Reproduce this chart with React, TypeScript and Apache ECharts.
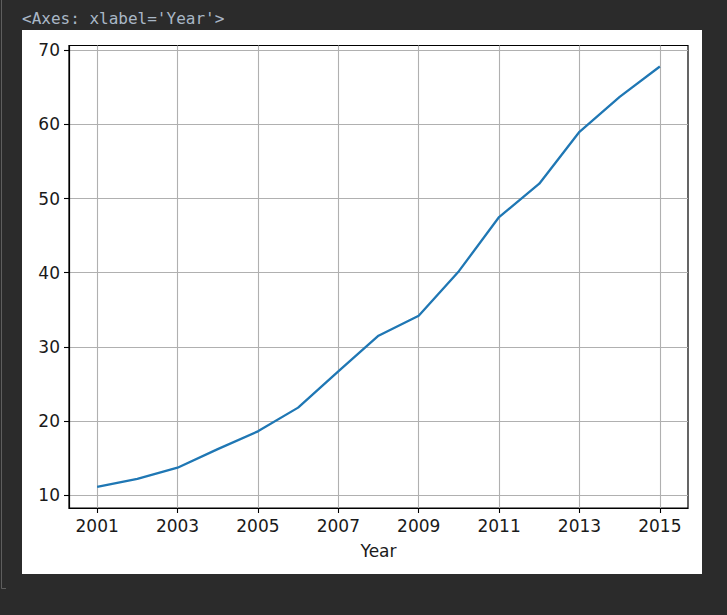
import React, { useEffect, useRef } from "react";
import * as echarts from "echarts";

const years = [2001, 2002, 2003, 2004, 2005, 2006, 2007, 2008, 2009, 2010, 2011, 2012, 2013, 2014, 2015];
const values = [11.1, 12.2, 13.7, 16.2, 18.6, 21.8, 26.7, 31.5, 34.2, 40.2, 47.5, 52.0, 59.0, 63.7, 67.8];
const xTickYears = [2001, 2003, 2005, 2007, 2009, 2011, 2013, 2015];
const yTicks = [10, 20, 30, 40, 50, 60, 70];
const BASE = 2001;

export default function App() {
  const ref = useRef<HTMLDivElement>(null);
  useEffect(() => {
    if (!ref.current) return;
    const chart = echarts.init(ref.current, null, { renderer: "svg" });
    const xs = years.map((y) => y - BASE);
    const xmin = Math.min(...xs), xmax = Math.max(...xs);
    const ymin = Math.min(...values), ymax = Math.max(...values);
    const xm = (xmax - xmin) * 0.05, ym = (ymax - ymin) * 0.05;
    const font = "DejaVu Sans";
    chart.setOption({
      animation: false,
      backgroundColor: "#2b2b2b",
      graphic: [
        { type: "rect", z: -100, shape: { x: 22, y: 30, width: 680, height: 544 }, style: { fill: "#ffffff" } },
        { type: "polyline", z: -100, shape: { points: [[1.5, 0], [1.5, 588.5], [6, 588.5]] }, style: { stroke: "#5e5e5e", lineWidth: 1, fill: null } },
        { type: "text", z: 10, x: 22, y: 10, style: { text: "<Axes: xlabel='Year'>", font: "16px 'DejaVu Sans Mono'", fill: "#a9b7c6" } },
      ],
      grid: { left: 69, right: 39, top: 45.5, bottom: 107, show: true, borderColor: "#000", borderWidth: 1.2, backgroundColor: "transparent" },
      xAxis: {
        type: "value",
        min: xmin - xm,
        max: xmax + xm,
        minInterval: 2,
        maxInterval: 2,
        name: "Year",
        nameLocation: "middle",
        nameGap: 34,
        nameTextStyle: { fontFamily: font, fontSize: 17, color: "#1a1a1a" },
        axisLine: { show: true, onZero: false, lineStyle: { color: "#000", width: 1.2 } },
        axisTick: { show: true, inside: false, length: 5, lineStyle: { color: "#000", width: 1.1 }, customValues: xTickYears.map((y) => y - BASE) },
        axisLabel: {
          show: true, margin: 9, fontFamily: font, fontSize: 17, color: "#1a1a1a",
          customValues: xTickYears.map((y) => y - BASE),
          formatter: (v: number) => String(Math.round(v) + BASE),
        },
        splitLine: { show: true, lineStyle: { color: "#b0b0b0", width: 1.1 } },
      },
      yAxis: {
        type: "value",
        min: ymin - ym,
        max: ymax + ym,
        minInterval: 10,
        maxInterval: 10,
        axisLine: { show: true, onZero: false, lineStyle: { color: "#000", width: 1.2 } },
        axisTick: { show: true, inside: false, length: 5, lineStyle: { color: "#000", width: 1.1 }, customValues: yTicks },
        axisLabel: {
          show: true, margin: 9, fontFamily: font, fontSize: 17, color: "#1a1a1a",
          customValues: yTicks,
          formatter: (v: number) => String(Math.round(v)),
        },
        splitLine: { show: true, lineStyle: { color: "#b0b0b0", width: 1.1 } },
      },
      series: [
        {
          type: "line",
          data: xs.map((x, i) => [x, values[i]]),
          showSymbol: false,
          symbol: "none",
          lineStyle: { color: "#1f77b4", width: 2.3 },
          z: 3,
        },
      ],
    });
    return () => chart.dispose();
  }, []);
  return <div ref={ref} style={{ position: "absolute", left: 0, top: 0, width: 727, height: 615 }} />;
}
